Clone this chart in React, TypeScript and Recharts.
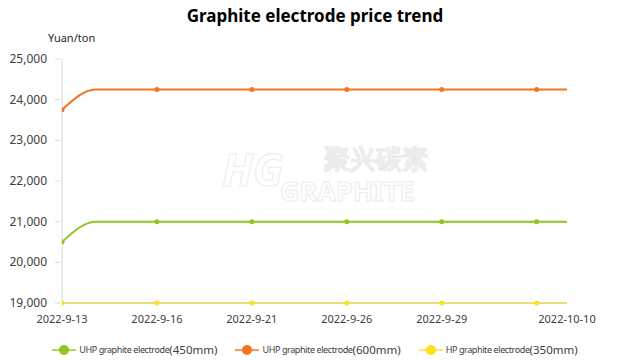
import React from 'react';
import {
  LineChart,
  Line,
  XAxis,
  YAxis,
  Legend,
} from 'recharts';

// x positions on the category scale (0 = first date label)
const xPos = [0, 0.35, 1, 2, 3, 4, 5, 5.32];
const hasMarker = [true, false, true, true, true, true, true, false];

const uhp450 = [20500, 21000, 21000, 21000, 21000, 21000, 21000, 21000];
const uhp600 = [23750, 24250, 24250, 24250, 24250, 24250, 24250, 24250];
const hp350 = [19000, 19000, 19000, 19000, 19000, 19000, 19000, 19000];

const xTicks = [0, 1, 2, 3, 4, 5.32];
const xLabels = ['2022-9-13', '2022-9-16', '2022-9-21', '2022-9-26', '2022-9-29', '2022-10-10'];
const yTicks = [19000, 20000, 21000, 22000, 23000, 24000, 25000];

const series = [
  { key: 'uhp450', name: 'UHP graphite electrode', size: '(450mm)', color: '#8CC71F' },
  { key: 'uhp600', name: 'UHP graphite electrode', size: '(600mm)', color: '#F47421' },
  { key: 'hp350', name: 'HP graphite electrode', size: '(350mm)', color: '#FFE11A' },
];

const data = xPos.map((x, i) => ({
  x,
  marker: hasMarker[i],
  uhp450: uhp450[i],
  uhp600: uhp600[i],
  hp350: hp350[i],
}));

const FONT = '"Noto Sans", "Open Sans", sans-serif';

const makeDot = (color: string) => (props: any) => {
  const { cx, cy, payload, index } = props;
  if (!payload.marker) return <g key={`d-${index}`} />;
  return <circle key={`d-${index}`} cx={cx} cy={cy} r={2.5} fill={color} stroke="none" />;
};

const YTick = (props: any) => {
  const { x, y, payload } = props;
  return (
    <g>
      <line x1={x + 1} x2={x + 6} y1={y} y2={y} stroke="#d9d9d9" />
      <text x={x - 7} y={y} dy={4} textAnchor="end" fontSize={12} fill="#404040" fontFamily={FONT}>
        {payload.value.toLocaleString('en-US')}
      </text>
    </g>
  );
};

const XTick = (props: any) => {
  const { x, y, payload } = props;
  const idx = xTicks.indexOf(payload.value);
  return (
    <text x={x} y={y} dy={12} textAnchor="middle" fontSize={11} fill="#404040" fontFamily={FONT}>
      {xLabels[idx]}
    </text>
  );
};

const LegendContent = () => (
  <div
    style={{
      display: 'flex',
      justifyContent: 'center',
      gap: 18,
      width: 630,
      fontFamily: FONT,
      color: '#404040',
    }}
  >
    {series.map((s) => (
      <div key={s.key} style={{ display: 'flex', alignItems: 'center' }}>
        <svg width={24} height={12} style={{ marginRight: 3 }}>
          <line x1={0} x2={24} y1={6} y2={6} stroke={s.color} strokeWidth={2} opacity={0.7} />
          <circle cx={12} cy={6} r={5} fill={s.color} />
        </svg>
        <span style={{ fontSize: 9, letterSpacing: -0.4 }}>{s.name}</span>
        <span style={{ fontSize: 11.5 }}>{s.size}</span>
      </div>
    ))}
  </div>
);

const App: React.FC = () => {
  return (
    <div style={{ position: 'fixed', top: 0, left: 0, width: 630, height: 360, background: '#fff' }}>
      <div
        style={{
          position: 'absolute',
          top: 4,
          left: 0,
          width: 630,
          textAlign: 'center',
          fontFamily: FONT,
          fontWeight: 700,
          fontSize: 17,
          color: '#000',
        }}
      >
        Graphite electrode price trend
      </div>
      <div style={{ position: 'absolute', top: 30, left: 48, fontFamily: FONT, fontSize: 11, color: '#262626' }}>
        Yuan/ton
      </div>
      {/* faint watermark */}
      <div
        style={{
          position: 'absolute',
          top: 143,
          left: 222,
          fontFamily: FONT,
          fontWeight: 700,
          color: '#fff',
          WebkitTextStroke: '1px #ececec',
          lineHeight: 1,
        }}
      >
        <div style={{ fontSize: 44, fontStyle: 'italic', position: 'absolute', left: 0, top: 4 }}>HG</div>
        <div style={{ fontSize: 26, position: 'absolute', left: 102, top: 2, whiteSpace: 'nowrap' }}>聚兴碳素</div>
        <div style={{ fontSize: 27, position: 'absolute', left: 58, top: 34, whiteSpace: 'nowrap' }}>GRAPHITE</div>
      </div>
      <div style={{ position: 'absolute', top: 0, left: 0 }}>
        <LineChart width={630} height={360} data={data} margin={{ top: 59, right: 63, left: 0, bottom: 0 }}>
          <XAxis
            dataKey="x"
            type="number"
            domain={[0, 5.32]}
            ticks={xTicks}
            tick={<XTick />}
            tickLine={false}
            axisLine={{ stroke: '#d9d9d9' }}
            height={33}
            allowDataOverflow
          />
          <YAxis
            domain={[19000, 25000]}
            ticks={yTicks}
            tick={<YTick />}
            tickLine={false}
            axisLine={{ stroke: '#d9d9d9' }}
            width={62}
          />
          <Legend
            verticalAlign="bottom"
            height={24}
            wrapperStyle={{ bottom: -6, left: 0, width: 630 }}
            content={<LegendContent />}
          />
          {series.map((s) => (
            <Line
              key={s.key}
              type="monotone"
              dataKey={s.key}
              name={s.name + s.size}
              stroke={s.color}
              strokeWidth={2}
              dot={makeDot(s.color)}
              activeDot={false}
              isAnimationActive={false}
            />
          ))}
        </LineChart>
      </div>
    </div>
  );
};

export default App;
